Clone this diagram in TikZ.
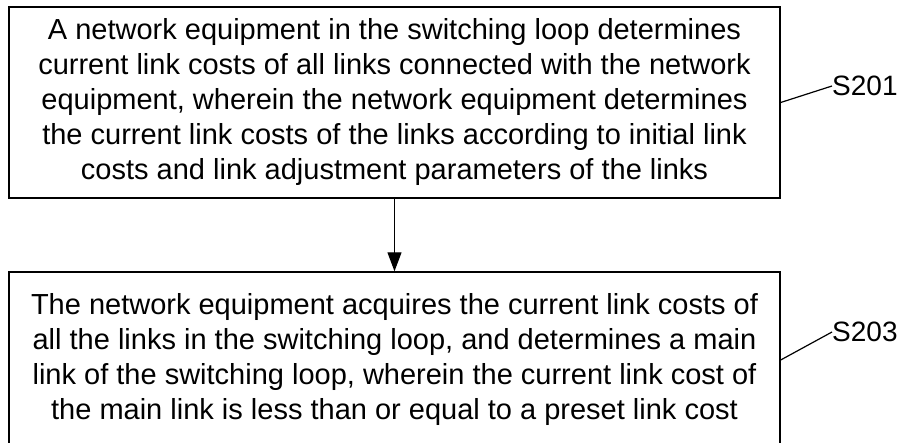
\documentclass[tikz,border=0pt]{standalone}
\usepackage{fontspec}
\setmainfont{Liberation Sans}
\usetikzlibrary{arrows.meta}

\begin{document}
\begin{tikzpicture}[x=1pt,y=-1pt,
  stepbox/.style={draw,line width=1.4pt,minimum width=771pt,align=center,
    font=\fontsize{29}{35}\selectfont},
  steplabel/.style={anchor=west,inner sep=0pt,font=\fontsize{28}{34}\selectfont}]
   \useasboundingbox (0,0) rectangle (906,443);
   \node[stepbox,minimum height=191pt] (s1) at (394.5,102.5) {A network equipment in the switching loop determines\\
     current link costs of all links connected with the network\\
     equipment, wherein the network equipment determines\\
     the current link costs of the links according to initial link\\
     costs and link adjustment parameters of the links};
   \node[stepbox,minimum height=176pt] (s2) at (394.5,360) {The network equipment acquires the current link costs of\\
     all the links in the switching loop, and determines a main\\
     link of the switching loop, wherein the current link cost of\\
     the main link is less than or equal to a preset link cost};
   \node[steplabel] (l1) at (832,86) {S201};
   \node[steplabel] (l2) at (832,332) {S203};
   \draw[line width=1.2pt,-{Triangle[length=19pt,width=14pt]}] (s1) -- (s2);
   \draw[line width=1.2pt] (s1.east) -- (l1.west);
   \draw[line width=1.2pt] (s2.east) -- (l2.west);
\end{tikzpicture}
\end{document}
